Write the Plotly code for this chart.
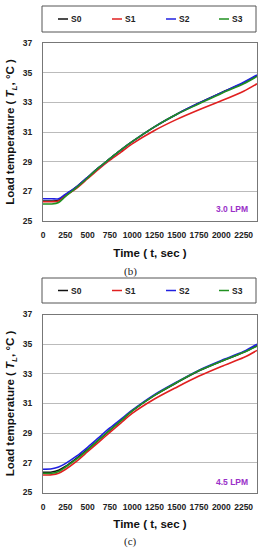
import plotly.graph_objects as go

time_s = [0, 100, 175, 250, 375, 500, 625, 750, 875, 1000, 1250, 1500, 1750, 2000, 2250, 2400]

# (b) 3.0 LPM
s0_b = [26.35, 26.35, 26.4, 26.75, 27.3, 27.95, 28.6, 29.2, 29.8, 30.35, 31.35, 32.2, 32.95, 33.65, 34.3, 34.8]
s1_b = [26.3, 26.3, 26.35, 26.7, 27.2, 27.85, 28.5, 29.1, 29.65, 30.2, 31.1, 31.85, 32.5, 33.1, 33.75, 34.25]
s2_b = [26.5, 26.5, 26.5, 26.8, 27.3, 27.95, 28.6, 29.2, 29.8, 30.35, 31.35, 32.2, 32.95, 33.65, 34.35, 34.85]
s3_b = [26.15, 26.15, 26.25, 26.65, 27.25, 27.9, 28.6, 29.2, 29.8, 30.35, 31.35, 32.2, 32.9, 33.6, 34.25, 34.75]

# (c) 4.5 LPM
s0_c = [26.36, 26.38, 26.5, 26.75, 27.3, 27.9, 28.55, 29.2, 29.85, 30.5, 31.55, 32.4, 33.2, 33.85, 34.45, 34.9]
s1_c = [26.18, 26.2, 26.3, 26.55, 27.1, 27.75, 28.4, 29.05, 29.7, 30.33, 31.3, 32.1, 32.85, 33.5, 34.1, 34.58]
s2_c = [26.57, 26.6, 26.72, 26.95, 27.45, 28.05, 28.7, 29.35, 29.95, 30.55, 31.6, 32.45, 33.25, 33.9, 34.5, 35.0]
s3_c = [26.3, 26.3, 26.42, 26.7, 27.25, 27.88, 28.55, 29.2, 29.85, 30.5, 31.55, 32.42, 33.22, 33.85, 34.45, 34.87]

series_names = ["S0", "S1", "S2", "S3"]
series_colors = ["#111111", "#e02020", "#2020e0", "#209020"]
x_ticks = [0, 250, 500, 750, 1000, 1250, 1500, 1750, 2000, 2250]
y_ticks = [25, 27, 29, 31, 33, 35, 37]
panel_labels = ["(b)", "(c)"]
flow_labels = ["3.0 LPM", "4.5 LPM"]

W, H = 265, 550
FONT = "Liberation Sans, Arial, sans-serif"

fig = go.Figure()

panels = [
    ([s0_b, s1_b, s2_b, s3_b], "x", "y"),
    ([s0_c, s1_c, s2_c, s3_c], "x2", "y2"),
]
for data, xa, ya in panels:
    for name, col, vals in zip(series_names, series_colors, data):
        fig.add_trace(go.Scatter(
            x=time_s, y=vals, name=name, mode="lines",
            line=dict(color=col, width=1.6, shape="spline", smoothing=0.8),
            xaxis=xa, yaxis=ya, showlegend=False,
        ))

def py(px):
    return 1 - px / H

def px_x(px):
    return (px - 43) / (257 - 43)

axis_common = dict(
    showline=True, linecolor="#777777", linewidth=1, mirror=True,
    ticks="", zeroline=False, automargin=False,
    tickfont=dict(family=FONT, size=8.5, color="#222222"),
)
xt = dict(text="<b>Time ( t, sec )</b>", font=dict(family=FONT, size=11.5, color="#111111"), standoff=9)
yt = dict(text="<b>Load temperature ( <i>T<sub>L</sub></i>, °C )</b>",
          font=dict(family=FONT, size=11.5, color="#111111"), standoff=5)

fig.update_layout(
    width=W, height=H,
    margin=dict(l=43, r=8, t=0, b=0, autoexpand=False),
    paper_bgcolor="white", plot_bgcolor="white",
    font=dict(family=FONT, color="#111111"),
    showlegend=False,
    xaxis=dict(domain=[0, 1], anchor="y", range=[0, 2400], tickvals=x_ticks,
               ticktext=["<b>%d</b>" % v for v in x_ticks],
               showgrid=False, ticklabelstandoff=6, title=xt, **axis_common),
    yaxis=dict(domain=[py(221), py(43)], anchor="x", range=[25, 37], tickvals=y_ticks,
               ticktext=["<b>%d</b>" % v for v in y_ticks],
               showgrid=True, gridcolor="#bbbbbb", gridwidth=1, ticklabelstandoff=8,
               title=yt, **axis_common),
    xaxis2=dict(domain=[0, 1], anchor="y2", range=[0, 2400], tickvals=x_ticks,
                ticktext=["<b>%d</b>" % v for v in x_ticks],
                showgrid=False, ticklabelstandoff=6, title=xt, **axis_common),
    yaxis2=dict(domain=[py(492.5), py(314.5)], anchor="x2", range=[25, 37], tickvals=y_ticks,
                ticktext=["<b>%d</b>" % v for v in y_ticks],
                showgrid=True, gridcolor="#bbbbbb", gridwidth=1, ticklabelstandoff=8,
                title=yt, **axis_common),
)

shapes = []
annotations = []
# legend boxes (top of each panel)
legend_boxes = [(6, 32), (278, 303)]
legend_line_x = [58, 112, 166, 219]
for (y0, y1) in legend_boxes:
    shapes.append(dict(type="rect", xref="paper", yref="paper",
                       x0=px_x(42), x1=px_x(256), y0=py(y1), y1=py(y0),
                       line=dict(color="#555555", width=1), fillcolor="white", layer="above"))
    yc = (y0 + y1) / 2
    for name, col, lx in zip(series_names, series_colors, legend_line_x):
        shapes.append(dict(type="line", xref="paper", yref="paper",
                           x0=px_x(lx), x1=px_x(lx + 10), y0=py(yc), y1=py(yc),
                           line=dict(color=col, width=1.5), layer="above"))
        annotations.append(dict(text="<b>" + name + "</b>", x=px_x(lx + 10.5), y=py(yc),
                                xref="paper", yref="paper", showarrow=False,
                                xanchor="left", yanchor="middle",
                                font=dict(family=FONT, size=8.5, color="#222222")))

for lab, yc in zip(panel_labels, [271, 541]):
    annotations.append(dict(text=lab, x=px_x(130), y=py(yc), xref="paper", yref="paper",
                            showarrow=False, xanchor="center", yanchor="middle",
                            font=dict(family="Liberation Serif, Times New Roman, serif", size=11, color="#222222")))
for lab, yc in zip(flow_labels, [209, 481.5]):
    annotations.append(dict(text="<b>" + lab + "</b>", x=px_x(250), y=py(yc), xref="paper", yref="paper",
                            showarrow=False, xanchor="right", yanchor="middle",
                            font=dict(family=FONT, size=8.5, color="#9a30c8")))
fig.update_layout(shapes=shapes, annotations=annotations)

# remove the default page margin so the 265x550 figure fills the window exactly
fig.write_html("out.html", config={"displayModeBar": False},
               post_script="document.body.style.margin='0';")
